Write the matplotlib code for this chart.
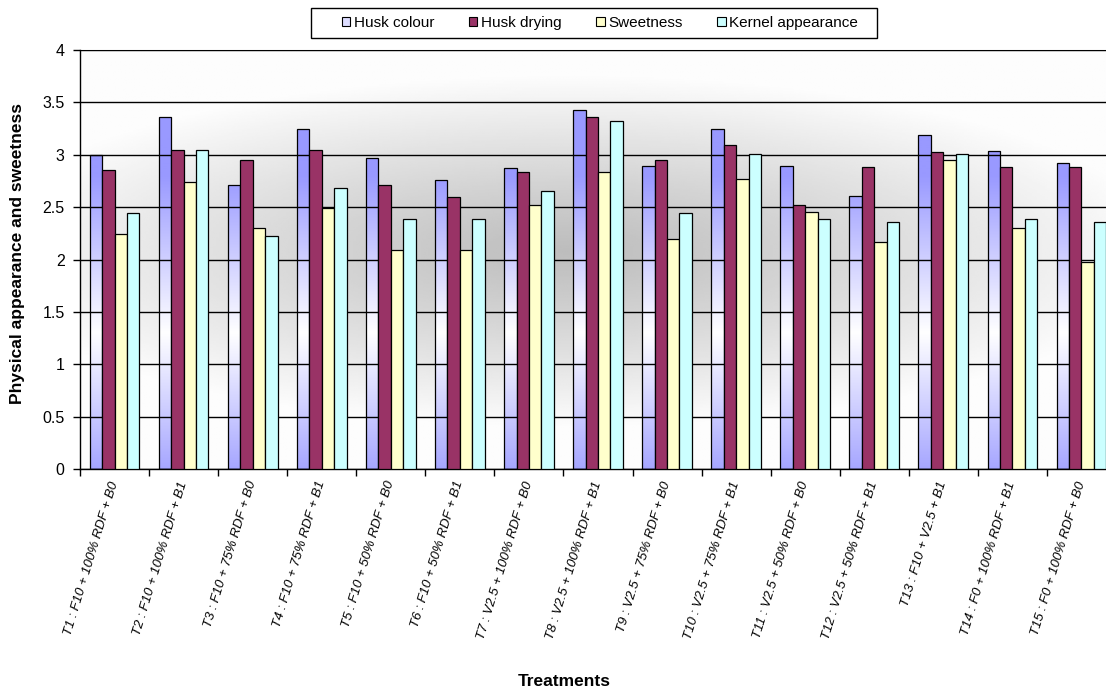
import numpy as np
import matplotlib
matplotlib.use("Agg")
import matplotlib.pyplot as plt
from matplotlib.patches import Patch, Rectangle

plt.rcParams['font.family'] = ['Liberation Sans', 'DejaVu Sans']

# data
treatments = ["T1 : F10 + 100% RDF + B0", "T2 : F10 + 100% RDF + B1",
              "T3 : F10 + 75% RDF + B0", "T4 : F10 + 75% RDF + B1",
              "T5 : F10 + 50% RDF + B0", "T6 : F10 + 50% RDF + B1",
              "T7 : V2.5 + 100% RDF + B0", "T8 : V2.5 + 100% RDF + B1",
              "T9 : V2.5 + 75% RDF + B0", "T10 : V2.5 + 75% RDF + B1",
              "T11 : V2.5 + 50% RDF + B0", "T12 : V2.5 + 50% RDF + B1",
              "T13 : F10 + V2.5 + B1", "T14 : F0 + 100% RDF + B1",
              "T15 : F0 + 100% RDF + B0"]
husk_colour = [3.00, 3.36, 2.71, 3.25, 2.97, 2.76, 2.87, 3.43, 2.89, 3.25, 2.89, 2.61, 3.19, 3.04, 2.92]
husk_drying = [2.85, 3.05, 2.95, 3.05, 2.71, 2.60, 2.84, 3.36, 2.95, 3.09, 2.52, 2.88, 3.03, 2.88, 2.88]
sweetness = [2.24, 2.74, 2.30, 2.49, 2.09, 2.09, 2.52, 2.84, 2.20, 2.77, 2.45, 2.17, 2.95, 2.30, 1.98]
kernel = [2.44, 3.05, 2.22, 2.68, 2.39, 2.39, 2.65, 3.32, 2.44, 3.01, 2.39, 2.36, 3.01, 2.39, 2.36]
series_names = ["Husk colour", "Husk drying", "Sweetness", "Kernel appearance"]

blue = np.array([0x99, 0x99, 0xFF]) / 255
W, H = 1106, 689
fig = plt.figure(figsize=(W / 100, H / 100), dpi=100)
ax = fig.add_axes([80 / W, 1 - 469 / H, 1036 / W, 419 / H])

x = np.arange(len(treatments))
w = 0.18

# background: grey in the middle fading to white at the edges
gx, gy = np.meshgrid(np.linspace(0, 1, 400), np.linspace(0, 1, 300))
r = np.sqrt(((gx - 0.47) / 0.58) ** 2 + ((gy - 0.52) / 0.42) ** 2)
shade = 0.74 + 0.25 * np.clip(r, 0, 1) ** 1.1
ax.imshow(shade, cmap='gray', vmin=0, vmax=1, extent=[0, 1, 0, 1],
          transform=ax.transAxes, origin='lower', aspect='auto', zorder=0)

ax.set_yticks(np.arange(0, 4.01, 0.5))
ax.yaxis.grid(True, color='black', linewidth=1.0, zorder=1)
ax.set_axisbelow(False)

# husk colour: blue/white/blue gradient fill
vals = np.linspace(0, 4, 300)
t = np.clip(np.abs(vals - 1.3) / 1.5, 0, 1)
grad = (1 - t[:, None]) * np.ones(3) + t[:, None] * blue
bars = ax.bar(x - 1.5 * w, husk_colour, w, facecolor='none', edgecolor='black', linewidth=0.9, zorder=3)
for b in bars:
    im = ax.imshow(grad[:, None, :], extent=[-0.5, len(x) - 0.5, 0, 4], origin='lower',
                   aspect='auto', zorder=2)
    im.set_clip_path(b)

ax.bar(x - 0.5 * w, husk_drying, w, color='#993366', edgecolor='black', linewidth=0.9, zorder=3)
ax.bar(x + 0.5 * w, sweetness, w, color='#FFFFCC', edgecolor='black', linewidth=0.9, zorder=3)
ax.bar(x + 1.5 * w, kernel, w, color='#CCFFFF', edgecolor='black', linewidth=0.9, zorder=3)

ax.set_xlim(-0.5, len(x) - 0.5)
ax.set_ylim(0, 4)
ax.set_yticklabels(["0", "0.5", "1", "1.5", "2", "2.5", "3", "3.5", "4"], fontsize=11.5)
ax.tick_params(axis='y', length=5, width=1, direction='out', pad=6)

ax.set_xticks(np.arange(-0.5, len(x), 1.0))
ax.set_xticklabels([])
ax.tick_params(axis='x', which='major', length=5, width=1, direction='out')
ax.set_xticks(x, minor=True)
ax.set_xticklabels(treatments, minor=True, rotation=73, ha='right', va='center',
                   rotation_mode='anchor', fontsize=9.5, style='italic')
ax.tick_params(axis='x', which='minor', length=0, pad=9)

for s in ['left', 'bottom']:
    ax.spines[s].set_color('black')
    ax.spines[s].set_linewidth(1)
ax.spines['top'].set_color('#999999')
ax.spines['right'].set_visible(False)

fig.text(18 / W, 1 - 254 / H, "Physical appearance and sweetness", rotation=90,
         ha='center', va='center', fontsize=12.5, fontweight='bold')
fig.text(564 / W, 1 - 682 / H, "Treatments", ha='center', va='center',
         fontsize=12.5, fontweight='bold')

# legend box drawn by hand, entries from a frameless legend
fig.patches.append(Rectangle((311 / W, 1 - 38 / H), 566 / W, 30 / H, transform=fig.transFigure,
                             facecolor='white', edgecolor='black', linewidth=1))
handles = [Patch(facecolor='#DDDDFF', edgecolor='black', linewidth=0.8),
           Patch(facecolor='#993366', edgecolor='black', linewidth=0.8),
           Patch(facecolor='#FFFFCC', edgecolor='black', linewidth=0.8),
           Patch(facecolor='#CCFFFF', edgecolor='black', linewidth=0.8)]
fig.legend(handles, series_names, loc='center', bbox_to_anchor=(600 / W, 1 - 23 / H), ncol=4,
           fontsize=11, frameon=False, handlelength=0.55, handleheight=0.55,
           handletextpad=0.25, columnspacing=2.25, borderpad=0, borderaxespad=0)

fig.savefig("out.png", dpi=100)
